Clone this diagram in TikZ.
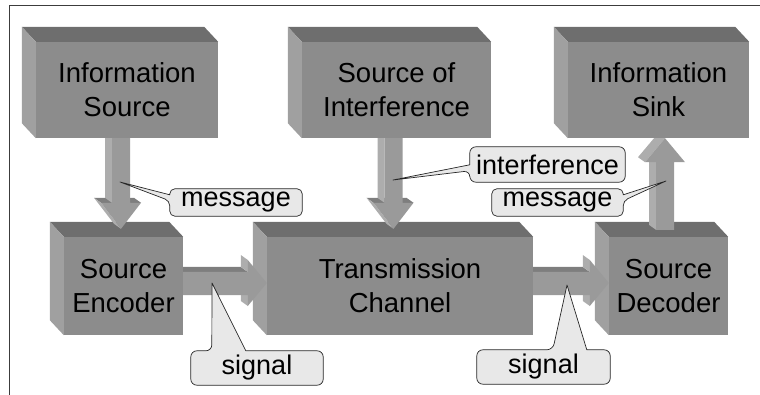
\documentclass[tikz,border=0pt]{standalone}
\usepackage{fontspec}
\setmainfont{Liberation Sans}
\usetikzlibrary{calc}
\pgfdeclarelayer{bg}
\pgfsetlayers{bg,main}
\definecolor{frontc}{HTML}{8C8C8C}
\definecolor{topc}{HTML}{6E6E6E}
\definecolor{sidec}{HTML}{A0A0A0}
\definecolor{arrc}{HTML}{9A9A9A}
\definecolor{arrtop}{HTML}{7E7E7E}
\definecolor{arrside}{HTML}{ADADAD}
\definecolor{callc}{HTML}{E8E8E8}
\definecolor{framec}{HTML}{3C3C3C}
\tikzset{
  box/.style={fill=frontc, inner sep=0pt, align=center,
    font=\fontsize{27.5}{34}\selectfont, text=black},
  calltext/.style={inner sep=0pt, font=\fontsize{27}{32}\selectfont, text=black},
  callout/.style={fill=callc, draw=black!85, line width=0.7pt, line join=round},
  arrfront/.style={fill=arrc},
  arrtopface/.style={fill=arrtop},
  arrsideface/.style={fill=arrside},
  topface/.style={fill=topc},
  sideface/.style={fill=sidec},
  frameline/.style={draw=framec, line width=1pt}
}
% 3D faces of a box node
\newcommand\boxfaces[1]{%
  \fill[topface] (#1.north west) -- ++(-14,-15) -- ($(#1.north east)+(-14,-15)$) -- (#1.north east) -- cycle;
  \fill[sideface] (#1.north west) -- ++(-14,-15) -- ($(#1.south west)+(-14,-15)$) -- (#1.south west) -- cycle;}
% block arrow downwards from #1 to #2, x offset #3
\newcommand\blkdown[3]{%
  \coordinate (a) at ($(#1.south)+(#3,0)$);
  \coordinate (t) at ($(a |- #2.north)+(0,-8)$);
  \fill[arrtopface] ($(t)+(-20,-26)$) -- ($(t)+(-27,-31)$) -- ($(t)+(13,-31)$) -- ($(t)+(20,-26)$) -- cycle;
  \fill[arrsideface] ($(a)+(-9,0)$) -- ($(a)+(-16,0)$) -- ($(t)+(-16,-31)$) -- ($(t)+(-9,-26)$) -- cycle;
  \fill[arrsideface] ($(t)+(-20,-26)$) -- (t) -- ($(t)+(-7,-5)$) -- ($(t)+(-27,-31)$) -- cycle;
  \fill[arrfront] ($(a)+(-9,0)$) -- ($(t)+(-9,-26)$) -- ($(t)+(-20,-26)$) -- (t) -- ($(t)+(20,-26)$) -- ($(t)+(9,-26)$) -- ($(a)+(9,0)$) -- cycle;}
% block arrow upwards from #1 to #2, x offset #3 (relative to #2.south)
\newcommand\blkup[3]{%
  \coordinate (a) at ($(#2.south)+(#3,0)$);
  \coordinate (b) at ($(a |- #1.north)+(0,-7)$);
  \fill[arrsideface] ($(b)+(-9,0)$) -- ($(a)+(-9,24)$) -- ($(a)+(-16,19)$) -- ($(b)+(-16,-5)$) -- cycle;
  \fill[arrsideface] ($(a)+(-20,24)$) -- (a) -- ($(a)+(-11,0)$) -- ($(a)+(-27,19)$) -- cycle;
  \fill[arrfront] (a) -- ($(a)+(20,24)$) -- ($(a)+(9,24)$) -- ($(b)+(9,0)$) -- ($(b)+(-9,0)$) -- ($(a)+(-9,24)$) -- ($(a)+(-20,24)$) -- cycle;}
% block arrow rightwards from #1 to #2
\newcommand\blkright[2]{%
  \coordinate (s) at (#1.east);
  \coordinate (t) at (#2.west);
  \fill[arrtopface] ($(s)+(0,-14)$) -- ($(t)+(-19,-14)$) -- ($(t)+(-26,-19)$) -- ($(s)+(0,-19)$) -- cycle;
  \fill[arrsideface] ($(t)+(-19,-26)$) -- ($(t)+(-19,-14)$) -- ($(t)+(-26,-19)$) -- ($(t)+(-26,-31)$) -- cycle;
  \fill[arrsideface] ($(t)+(-19,9)$) -- ($(t)+(-19,20)$) -- ($(t)+(-26,15)$) -- ($(t)+(-26,4)$) -- cycle;
  \fill[arrfront] ($(s)+(0,-14)$) -- ($(t)+(-19,-14)$) -- ($(t)+(-19,-26)$) -- ($(t)+(0,-3)$) -- ($(t)+(-19,20)$) -- ($(t)+(-19,9)$) -- ($(s)+(0,9)$) -- cycle;}
\begin{document}
\begin{tikzpicture}[x=1pt,y=-1pt]
\useasboundingbox (0,0) rectangle (760,395);
\draw[frameline] (9,395) -- (9,6) -- (760,6);

% boxes (front faces with text)
\node[box, minimum width=182pt, minimum height=96pt] (is) at (127,90) {Information\\Source};
\node[box, minimum width=189pt, minimum height=96pt] (si) at (396.5,90) {Source of\\Interference};
\node[box, minimum width=181pt, minimum height=96pt] (sk) at (658.5,90) {Information\\Sink};
\node[box, minimum width=119pt, minimum height=98pt] (se) at (123.5,286) {Source\\Encoder};
\node[box, minimum width=266pt, minimum height=98pt] (tc) at (400,286) {Transmission\\Channel};
\node[box, minimum width=119pt, minimum height=98pt] (sd) at (668.5,286) {Source\\Decoder};

% callout texts
\node[calltext, minimum width=132pt, minimum height=27pt] (m1) at (236,202.5) {message};
\node[calltext, minimum width=155pt, minimum height=35pt] (ic) at (547.5,164.5) {interference};
\node[calltext, minimum width=131pt, minimum height=27pt] (m2) at (557.5,202.5) {message};
\node[calltext, minimum width=132pt, minimum height=34pt] (s1) at (257,368) {signal};
\node[calltext, minimum width=133pt, minimum height=34pt] (s2) at (543.5,367) {signal};

\coordinate (m1p) at (120,182);
\coordinate (icp) at (393,180);
\coordinate (m2p) at (666,181);
\coordinate (s1p) at (212,283);
\coordinate (s2p) at (567,285);

\begin{pgfonlayer}{bg}
  \boxfaces{is}
  \boxfaces{si}
  \boxfaces{sk}
  \boxfaces{se}
  \boxfaces{tc}
  \boxfaces{sd}
  \blkdown{is}{se}{-6}
  \blkdown{si}{tc}{-3}
  \blkup{sd}{sk}{6.5}
  \blkright{se}{tc}
  \blkright{tc}{sd}
  % callout shapes
  \draw[callout, rounded corners=5pt] (m1.north) -- (m1.north east) -- (m1.south east) -- (m1.south west)
    -- ($(m1.north west)+(0,12)$) [sharp corners] -- (m1p) -- ($(m1.north west)+(0,6)$)
    [rounded corners=5pt] -- (m1.north west) -- cycle;
  \draw[callout, rounded corners=6pt] (ic.north) -- (ic.north east) -- (ic.south east) -- (ic.south west)
    -- ($(ic.north west)+(0,24)$) [sharp corners] -- (icp) -- ($(ic.north west)+(0,18)$)
    [rounded corners=6pt] -- (ic.north west) -- cycle;
  \draw[callout, rounded corners=5pt] (m2.north) -- (m2.north west) -- (m2.south west) -- (m2.south east)
    -- ($(m2.north east)+(0,12)$) [sharp corners] -- (m2p) -- ($(m2.north east)+(0,6)$)
    [rounded corners=5pt] -- (m2.north east) -- cycle;
  \draw[callout, rounded corners=6pt] (s1.west) -- (s1.north west) -- ($(s1.north west)+(21,0)$)
    [sharp corners] -- (s1p) -- ($(s1.north west)+(55,0)$) [rounded corners=6pt]
    -- (s1.north east) -- (s1.south east) -- (s1.south west) -- cycle;
  \draw[callout, rounded corners=6pt] (s2.west) -- (s2.north west) -- ($(s2.north west)+(76,0)$)
    [sharp corners] -- (s2p) -- ($(s2.north west)+(110,0)$) [rounded corners=6pt]
    -- (s2.north east) -- (s2.south east) -- (s2.south west) -- cycle;
\end{pgfonlayer}
\end{tikzpicture}
\end{document}
